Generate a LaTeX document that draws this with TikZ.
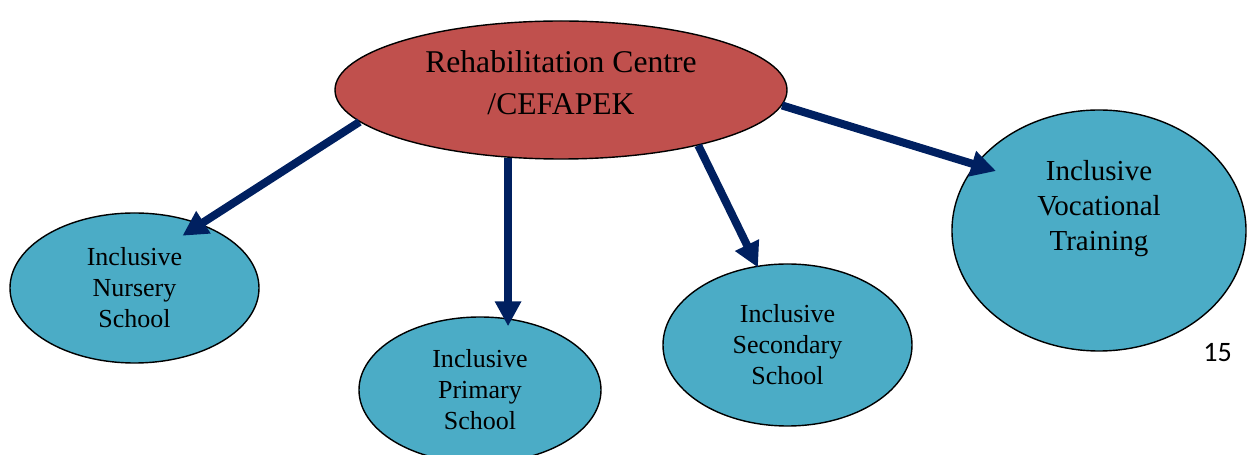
\documentclass[tikz,border=0pt]{standalone}
\usepackage{fontspec}
\setmainfont{Liberation Serif}
\newfontfamily\pagefont{Carlito}
\usetikzlibrary{arrows.meta,shapes.geometric}
\definecolor{centrered}{HTML}{C0504D}
\definecolor{schoolblue}{HTML}{4BACC6}
\definecolor{arrownavy}{HTML}{002060}

\begin{document}
\begin{tikzpicture}[
bubble/.style={
    ellipse,
    draw,
    line width=0.8pt,
    fill=schoolblue,
    inner sep=0pt,
    align=center,
    font=\fontsize{14.8}{17.6}\selectfont
    },
link/.style={
    draw=arrownavy,
    fill=arrownavy,
    line width=0.16cm,
    -{Triangle[length=0.5cm,width=0.5cm]}
    },
]
\useasboundingbox (0,0) rectangle (24.96,-9.1);

% centre
\node[bubble, fill=centrered, minimum width=9.04cm, minimum height=2.76cm] (centre) at (11.22,-1.8) {};
\node[align=center, font=\fontsize{18}{24}\selectfont] (centretext) at (11.22,-1.66) {Rehabilitation Centre\\/CEFAPEK};

% schools
\node[bubble, minimum width=4.98cm, minimum height=3cm] (nursery) at (2.69,-5.76) {Inclusive\\Nursery\\School};
\node[bubble, minimum width=4.84cm, minimum height=2.92cm] (primary) at (9.6,-7.8) {Inclusive\\Primary\\School};
\node[bubble, minimum width=4.98cm, minimum height=3.24cm] (secondary) at (15.75,-6.9) {Inclusive\\Secondary\\School};
\node[bubble, minimum width=5.88cm, minimum height=4.82cm] (vocational) at (21.98,-4.61) {};
\node[align=center, font=\fontsize{16.5}{19.8}\selectfont] (vocationaltext) at (21.98,-4.17) {Inclusive\\Vocational\\Training};

% arrows
\draw[link, shorten >=-0.44cm] (centre.189) -- (nursery.44);
\draw[link, shorten >=-0.2cm] (centre.232) -- (centre.232 |- primary.north);
\draw[link, shorten >=-0.04cm] (centre.338) -- (secondary.111);
\draw[link, shorten >=-0.44cm] (centre.356) -- (vocational.152);

\node[font=\pagefont\fontsize{16}{19}\selectfont] (pagenum) at (24.35,-7.06) {15};
\end{tikzpicture}
\end{document}
